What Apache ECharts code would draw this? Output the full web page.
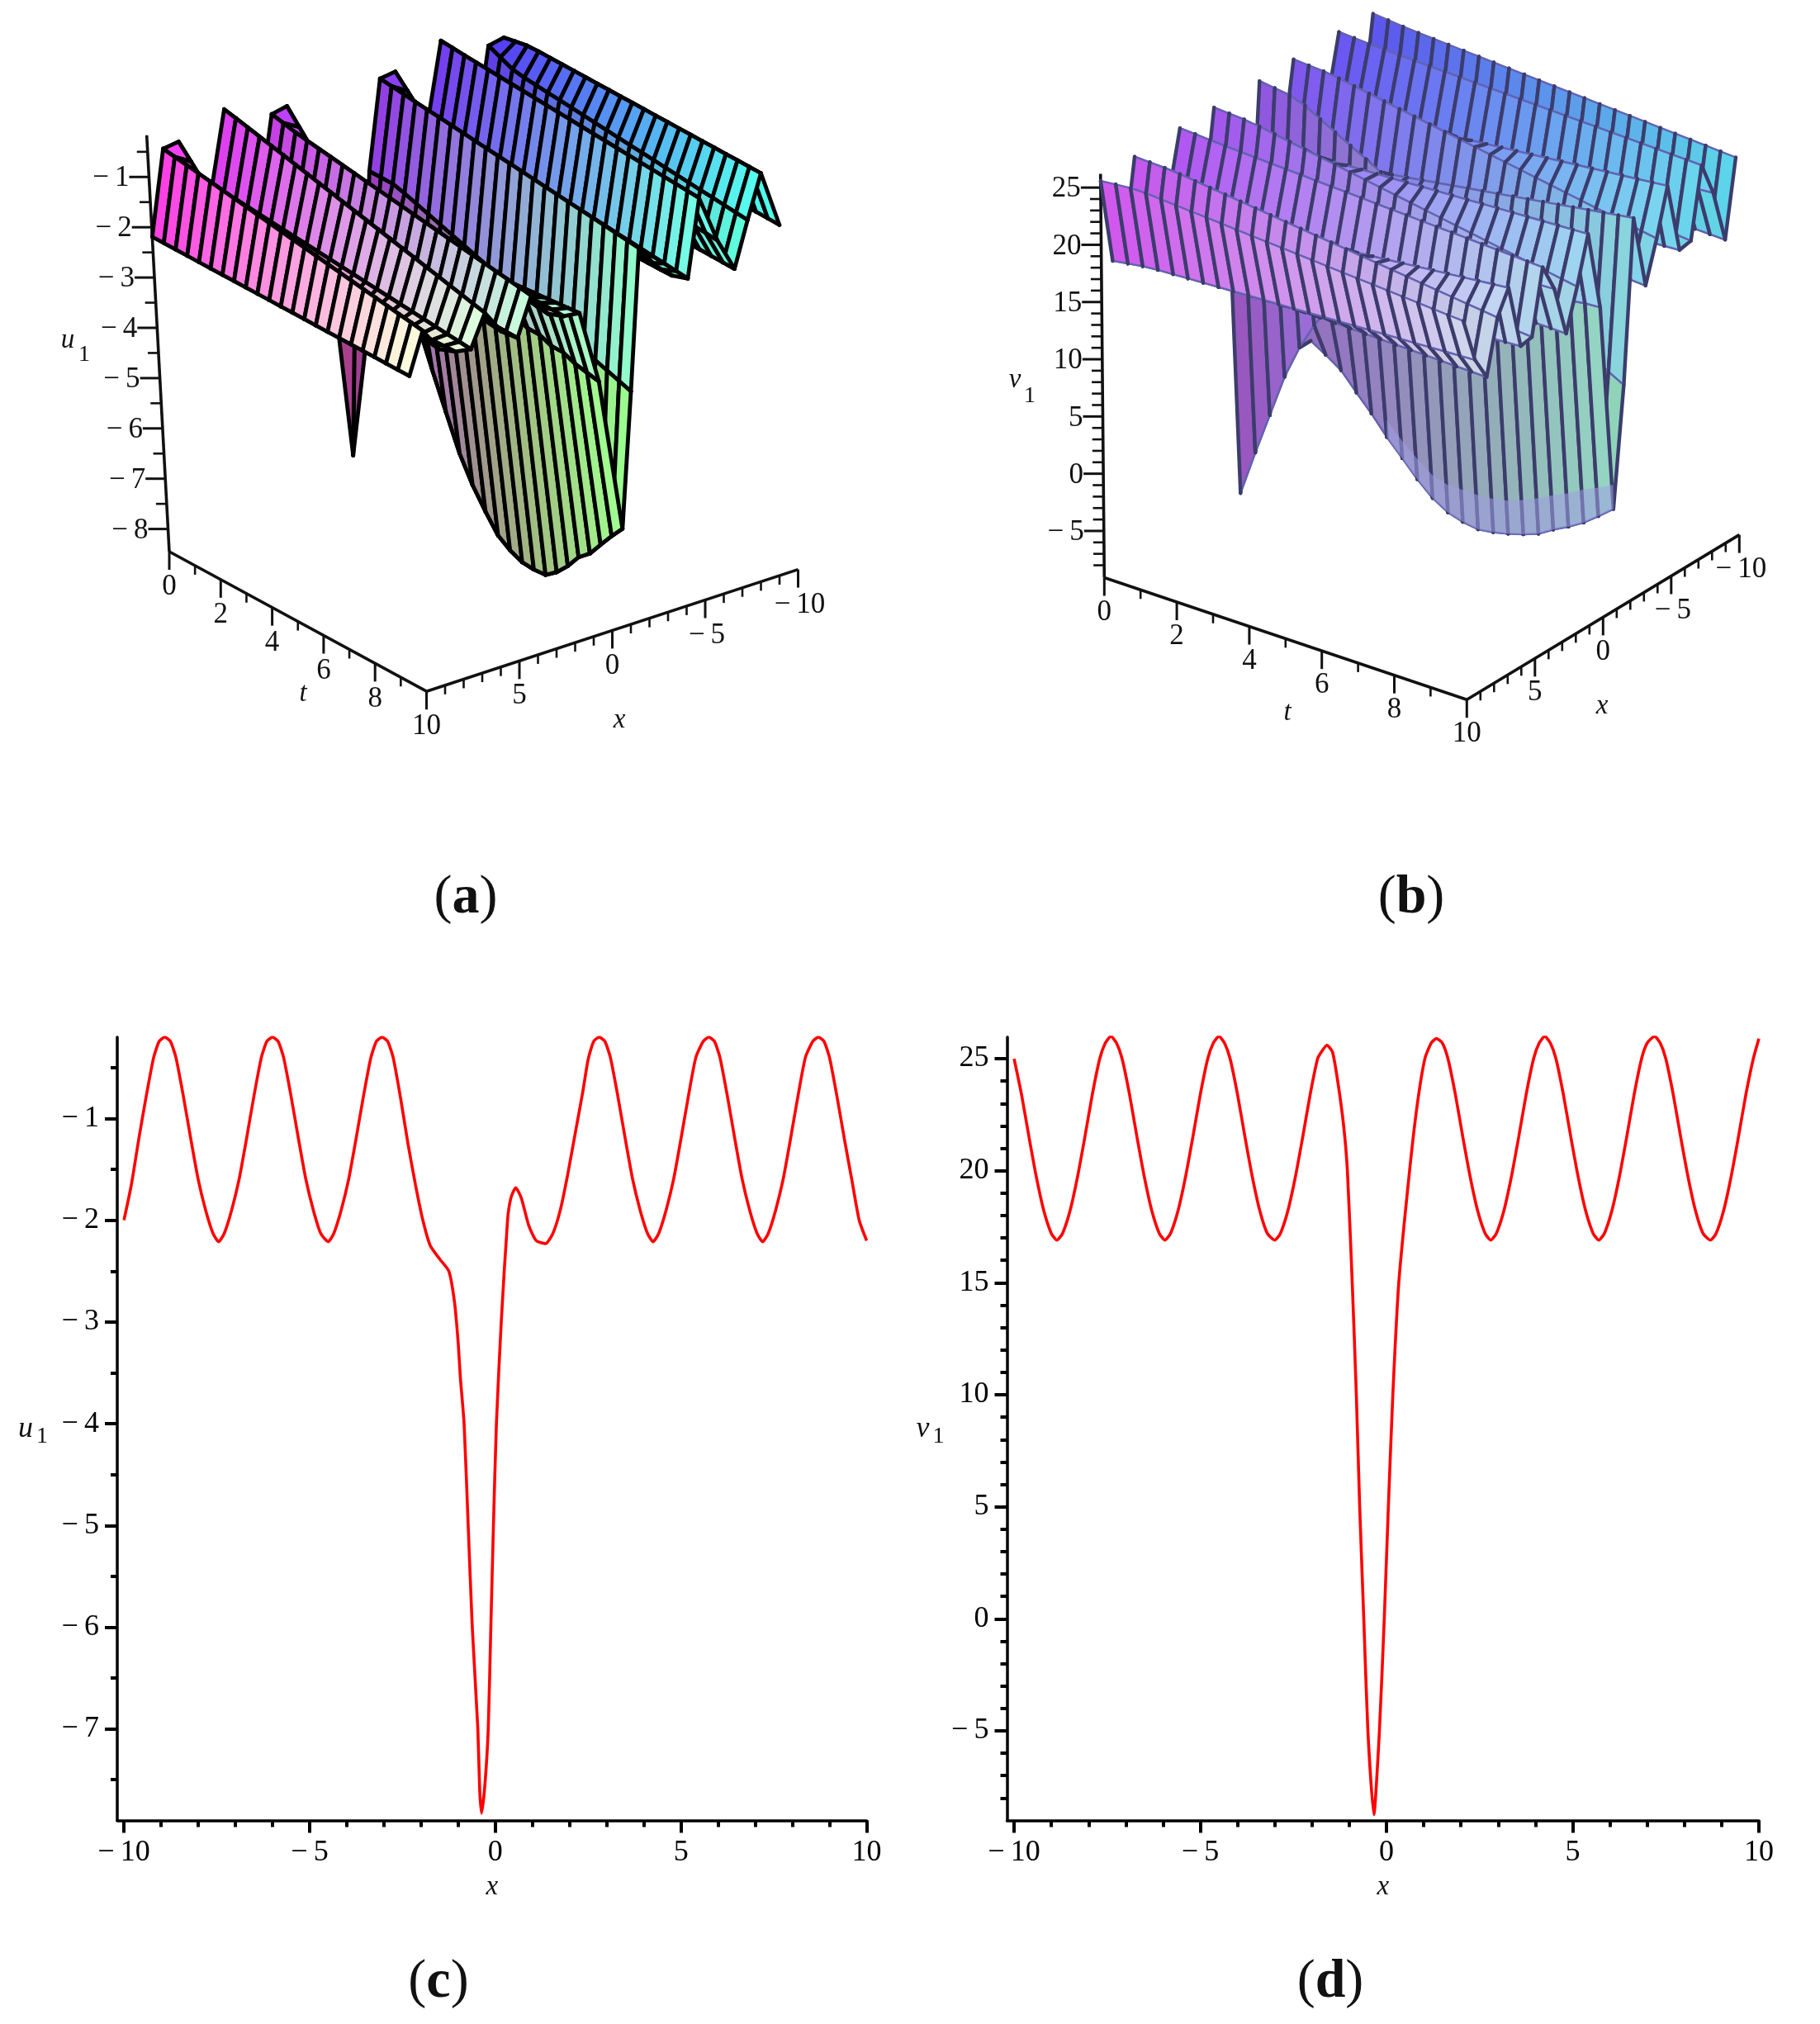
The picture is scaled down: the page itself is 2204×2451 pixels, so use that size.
<!DOCTYPE html>
<html>
<head>
<meta charset="utf-8">
<style>html,body{margin:0;background:#fff}#chart{width:2204px;height:2451px}</style>
<script src="https://cdn.jsdelivr.net/npm/echarts@6/dist/echarts.min.js"></script>
</head>
<body>
<div id="chart"></div>
<script>
// ---- Section curves (c) and (d) ----
const uLineX = [-10,-9.8,-9.6,-9.4,-9.2,-9.05,-8.9,-8.75,-8.6,-8.4,-8.2,-8,-7.8,-7.6,-7.45,-7.3,-7.1,-6.9,-6.7,-6.5,-6.3,-6.15,-6,-5.85,-5.7,-5.5,-5.3,-5.1,-4.9,-4.7,-4.5,-4.35,-4.15,-3.95,-3.75,-3.55,-3.35,-3.2,-3.05,-2.9,-2.75,-2.55,-2.35,-2.15,-1.95,-1.75,-1.5,-1.25,-1.1,-1,-.94,-.84,-.73,-.62,-.47,-.42,-.37,-.28,-.19,-.12,-.05,.03,.16,.33,.42,.55,.7,.9,1.1,1.35,1.55,1.75,1.95,2.15,2.35,2.5,2.65,2.8,2.95,3.1,3.3,3.5,3.7,3.9,4.1,4.25,4.4,4.6,4.8,5,5.2,5.4,5.6,5.75,5.9,6.05,6.25,6.45,6.65,6.85,7.05,7.2,7.35,7.55,7.75,7.95,8.15,8.35,8.55,8.7,8.85,9,9.2,9.4,9.6,9.8,10];
const uLineY = [-2,-1.65,-1.2,-.78,-.4,-.24,-.2,-.24,-.4,-.78,-1.2,-1.6,-1.9,-2.13,-2.21,-2.13,-1.9,-1.6,-1.2,-.78,-.4,-.24,-.2,-.24,-.4,-.78,-1.2,-1.6,-1.9,-2.13,-2.21,-2.13,-1.9,-1.6,-1.2,-.78,-.4,-.24,-.2,-.24,-.4,-.8,-1.25,-1.65,-2,-2.25,-2.38,-2.5,-2.8,-3.2,-3.55,-4,-5,-6,-7,-7.6,-7.83,-7.55,-7,-6,-5,-4,-3,-2,-1.78,-1.68,-1.78,-2.05,-2.2,-2.23,-2.13,-1.9,-1.55,-1.15,-.75,-.42,-.24,-.2,-.24,-.4,-.78,-1.2,-1.6,-1.9,-2.13,-2.21,-2.13,-1.9,-1.6,-1.2,-.78,-.4,-.24,-.2,-.24,-.4,-.78,-1.2,-1.6,-1.9,-2.13,-2.21,-2.13,-1.9,-1.6,-1.2,-.78,-.4,-.24,-.2,-.24,-.4,-.78,-1.2,-1.6,-2,-2.2];
const vLineX = [-10,-9.8,-9.6,-9.4,-9.2,-9,-8.85,-8.7,-8.5,-8.3,-8.1,-7.9,-7.7,-7.55,-7.4,-7.25,-7.1,-6.9,-6.7,-6.5,-6.3,-6.1,-5.95,-5.8,-5.6,-5.4,-5.2,-5,-4.8,-4.65,-4.5,-4.35,-4.2,-4,-3.8,-3.6,-3.4,-3.2,-3,-2.85,-2.65,-2.45,-2.25,-2.05,-1.85,-1.75,-1.6,-1.45,-1.31,-1.15,-1.05,-.92,-.81,-.72,-.61,-.5,-.34,-.19,-.06,.05,.17,.33,.62,.83,1.03,1.2,1.34,1.5,1.65,1.85,2.05,2.25,2.45,2.65,2.8,2.95,3.15,3.35,3.55,3.75,3.95,4.1,4.25,4.4,4.55,4.75,4.95,5.15,5.35,5.55,5.7,5.85,6.05,6.25,6.45,6.65,6.85,7,7.2,7.35,7.5,7.7,7.9,8.1,8.3,8.5,8.7,8.85,9.05,9.25,9.45,9.65,9.85,10];
const vLineY = [25,23.4,21.5,19.7,18.2,17.2,16.9,17.2,18.2,19.7,21.5,23.4,25,25.7,26,25.7,25,23.4,21.5,19.7,18.2,17.2,16.9,17.2,18.2,19.7,21.5,23.4,25,25.7,26,25.7,25,23.4,21.5,19.7,18.2,17.2,16.9,17.2,18.2,19.7,21.5,23.4,25,25.3,25.6,25.3,24,22,20,15,10,5,0,-5,-8.74,-5,0,5,10,15,20,23,25,25.7,25.9,25.7,25,23.4,21.5,19.7,18.2,17.2,16.9,17.2,18.2,19.7,21.5,23.4,25,25.7,26,25.7,25,23.4,21.5,19.7,18.2,17.2,16.9,17.2,18.2,19.7,21.5,23.4,25,25.7,26,25.7,25,23.4,21.5,19.7,18.2,17.2,16.9,17.2,18.2,19.7,21.5,23.4,25,25.9];

const lineXTicks = [-10,-5,0,5,10];
const lineXMinor = [-9,-8,-7,-6,-4,-3,-2,-1,1,2,3,4,6,7,8,9];
const uTicks = [-7,-6,-5,-4,-3,-2,-1];
const uMinor = [-7.5,-6.5,-5.5,-4.5,-3.5,-2.5,-1.5,-.5];
const vTicks = [-5,0,5,10,15,20,25];
const vMinor = [-8,-7,-6,-4,-3,-2,-1,1,2,3,4,6,7,8,9,11,12,13,14,16,17,18,19,21,22,23,24];

// ---- Surfaces (a) and (b): mesh columns read at t = 0, t = 1 and t = 10 ----
const meshX = [-10,-9.17,-8.33,-7.5,-6.67,-5.83,-5,-4.17,-3.33,-2.5,-1.67,-.83,0,.83,1.67,2.5,3.33,4.17,5,5.83,6.67,7.5,8.33,9.17,10];
const meshTA = [0,.45,.91,1.36,1.82,2.27,2.73,3.18,3.64,4.09,4.55,5,5.45,5.91,6.36,6.82,7.27,7.73,8.18,8.64,9.09,9.55,10];
const meshTB = [0,.42,.83,1.25,1.67,2.08,2.5,2.92,3.33,3.75,4.17,4.58,5,5.42,5.83,6.25,6.67,7.08,7.5,7.92,8.33,8.75,9.17,9.58,10];
const keyT = [0,1,10];

const uAtT0 = [-1.6,-.55,-.61,-2.1,-1.1,-.21,-1.55,-2,-.52,-.56,-2.3,-6,-7.75,-2.9,-2,-.5,-.56,-2.1,-1.3,-.16,-1.55,-2.2,-.5,-.54,-2.19];
const uAtT1 = [-1.5,-.45,-.85,-2.1,-1.1,-.25,-1.6,-1.95,-1.1,-.62,-2.3,-3.2,-3,-2.5,-1.9,-1.15,-.68,-2.1,-1.35,-.28,-1.6,-2.2,-1.1,-.62,-2.19];
const uAtT10 = [-1.6,-.47,-1.3,-2.17,-1.5,-.56,-2.06,-1.9,-1.6,-1.15,-3.9,-6.53,-3.5,-2.04,-2,-1.85,-1.39,-2.13,-1.9,-1.43,-2.05,-2,-1.85,-1.38,-2.18];
// the two columns that run through the valley, one value per mesh row
const uValleyA = [-6,-4.2,-3.3,-3.4,-3.95,-4.65,-5.4,-6.1,-6.8,-7.3,-7.7,-8.05,-8.22,-8.33,-8.35,-8.33,-8.15,-7.9,-7.6,-7.4,-7.1,-6.8,-6.53];
const uValleyB = [-7.75,-4.2,-3.1,-2.7,-2.6,-2.6,-2.5,-2.5,-2.6,-2.7,-2.8,-2.9,-3,-3,-3.1,-3.1,-3.2,-3.2,-3.3,-3.3,-3.4,-3.45,-3.5];

const vAtT0 = [25.8,18,19,26,21,17,22,26,19,19,25.9,10,-8.9,23,26,18,20,26,21,17,21,25.9,18.5,18,25.6];
const vAtT1 = [25.5,18,19.5,25.8,21.5,17,22,25.8,19,19.5,25.5,7,.6,23.5,25.8,18,20.5,25.8,21.5,17,21.5,25.8,18.5,18.5,25.9];
const vAtT10 = [23.9,17.3,22,25,19,18.8,25,21,17.5,24,10,-.23,18,25,21,17.5,22,24.5,19,18.8,24.5,22.5,17.9,20,24];
const vValleyA = [10,9.2,7.8,6.4,5.6,4.8,3.9,2.4,1,-.6,-2,-3.4,-4.6,-5.4,-5.8,-6,-5.8,-5.5,-5.1,-4.6,-3.8,-3.1,-2.3,-1.3,-.23];
const vValleyB = [-8.9,-4.9,-1.2,2.6,5.6,8,10,11.8,13,14,14.6,15,15.5,15.8,16,16.2,16.5,16.7,17,17.2,17.3,17.5,17.7,17.9,18];
// pale band along the valley floor in (b): upper edge for mesh rows 9..24
const vBandTop = [.9,-.5,-1.6,-2.6,-3,-3,-3,-2.9,-2.6,-2.1,-1.5,-.8,-.2,.6,1.2,1.9];

const boxTTicks = [0,2,4,6,8,10];
const boxTMinor = [1,3,5,7,9];
const boxXTicks = [5,0,-5,-10];
const boxXMinor = [9,8,7,6,4,3,2,1,-1,-2,-3,-4,-6,-7,-8,-9];
const boxUTicks = [-8,-7,-6,-5,-4,-3,-2,-1];
const boxUMinor = [-7.5,-6.5,-5.5,-4.5,-3.5,-2.5,-1.5,-.5];
const boxVTicks = [-5,0,5,10,15,20,25];
const boxVMinor = [-8,-7,-6,-4,-3,-2,-1,1,2,3,4,6,7,8,9,11,12,13,14,16,17,18,19,21,22,23,24];

const FONT = '"Liberation Serif", serif';

// orthographic view of the Maple box, pixels per unit
const viewA = {
  origin: [205, 668], perX: [-22.5, 7.38], perT: [31.15, 16.92], perZ: [-3.3, -60.9],
  zMin: -8.45, zMax: -.17, meshT: meshTA,
  stripe: '#000', column: '#000', stripeWidth: 4.8, columnWidth: 4.8,
  red: [75, 255], green: [60, 255], blue: [70, 255],
};
const viewB = {
  origin: [1337.3, 699.5], perX: [-16.5, 9.98], perT: [43.9, 14.77], perZ: [-.13, -13.86],
  zMin: -9.08, zMax: 26.2, meshT: meshTB,
  stripe: '#3c3c6c', column: '#6262b0', stripeWidth: 4.4, columnWidth: 2.4,
  red: [90, 210], green: [85, 215], blue: [140, 250],
};

function project(view, x, t, z) {
  const dx = 10 - x, dz = z - view.zMin;
  return [
    view.origin[0] - dx * view.perX[0] + t * view.perT[0] + dz * view.perZ[0],
    view.origin[1] - dx * view.perX[1] + t * view.perT[1] + dz * view.perZ[1],
  ];
}

// height of a mesh node: valley columns have their own list, the others are straight ridges between key rows
function meshHeight(view, rows, valleys, j, k) {
  if (valleys[j]) return valleys[j][k];
  const t = view.meshT[k];
  const i = t < keyT[1] ? 0 : 1;
  const f = (t - keyT[i]) / (keyT[i + 1] - keyT[i]);
  return rows[i][j] + (rows[i + 1][j] - rows[i][j]) * f;
}

function cellColor(view, x, t, z) {
  const mix = (c, f) => Math.round(c[0] + (c[1] - c[0]) * Math.max(0, Math.min(1, f)));
  const r = mix(view.red, (x + 10) / 20);
  const g = mix(view.green, t / 10);
  const b = mix(view.blue, (z - view.zMin) / (view.zMax - view.zMin));
  return `rgb(${r},${g},${b})`;
}

function surfaceSeries(view, rows, valleys) {
  const meshT = view.meshT;
  const data = [];
  for (let j = 0; j < meshX.length - 1; j++) {
    for (let k = 0; k < meshT.length - 1; k++) data.push([j, k]);
  }
  return {
    type: 'custom', xAxisIndex: 4, yAxisIndex: 4, silent: true, animation: false, clip: false,
    progressive: 0, z: 3, data,
    renderItem(params, api) {
      const j = api.value(0), k = api.value(1);
      const h = (a, b) => meshHeight(view, rows, valleys, a, b);
      const node = (a, b) => api.coord(project(view, meshX[a], meshT[b], h(a, b)));
      const p00 = node(j, k), p01 = node(j, k + 1), p11 = node(j + 1, k + 1), p10 = node(j + 1, k);
      const zMid = (h(j, k) + h(j + 1, k + 1)) / 2;
      const fill = cellColor(view, (meshX[j] + meshX[j + 1]) / 2, (meshT[k] + meshT[k + 1]) / 2, zMid);
      const edge = (a, b, color, width) => ({
        type: 'line',
        shape: { x1: a[0], y1: a[1], x2: b[0], y2: b[1] },
        style: { stroke: color, lineWidth: width, lineCap: 'round' },
      });
      return {
        type: 'group',
        children: [
          { type: 'polygon', shape: { points: [p00, p01, p11, p10] }, style: { fill, stroke: fill, lineWidth: .6 } },
          edge(p00, p01, view.column, view.columnWidth),
          edge(p10, p11, view.column, view.columnWidth),
          edge(p00, p10, view.stripe, view.stripeWidth),
          edge(p01, p11, view.stripe, view.stripeWidth),
        ],
      };
    },
  };
}

function bandSeries(view, lower, upper, firstRow) {
  return {
    type: 'custom', xAxisIndex: 4, yAxisIndex: 4, silent: true, animation: false, clip: false, z: 4,
    data: [[0]],
    renderItem(params, api) {
      const x = meshX[11], pts = [];
      upper.forEach((z, i) => pts.push(api.coord(project(view, x, view.meshT[firstRow + i], z))));
      for (let i = upper.length - 1; i >= 0; i--) pts.push(api.coord(project(view, x, view.meshT[firstRow + i], lower[firstRow + i])));
      return { type: 'polygon', shape: { points: pts }, style: { fill: 'rgba(158,158,226,.55)' } };
    },
  };
}

// axes, ticks and texts of a box, built as plain items and drawn by one custom series
function boxSeries(view, opt) {
  const items = [];
  const line = (a, b, w) => items.push({ kind: 'line', a, b, w });
  const text = (s, at, dx, dy, align) => items.push({ kind: 'text', s, at, dx, dy, align });
  const z0 = view.zMin;
  line([10, 0, z0], [10, 10, z0], 3.6);
  line([10, 10, z0], [-10, 10, z0], 3.6);
  line([10, 0, z0], [10, 0, view.zMax], 3.6);
  boxTTicks.forEach(t => {
    items.push({ kind: 'tick', at: [10, t, z0], dx: 0, dy: 22, w: 3 });
    text(String(t), [10, t, z0], 0, opt.labelDrop, 'center');
  });
  boxTMinor.forEach(t => items.push({ kind: 'tick', at: [10, t, z0], dx: 0, dy: 11, w: 2.6 }));
  boxXTicks.forEach(x => {
    items.push({ kind: 'tick', at: [x, 10, z0], dx: 0, dy: 22, w: 3 });
    text(signed(x), [x, 10, z0], x < 0 ? 2 : 0, opt.labelDrop, 'center');
  });
  boxXMinor.forEach(x => items.push({ kind: 'tick', at: [x, 10, z0], dx: 0, dy: 11, w: 2.6 }));
  opt.zTicks.forEach(z => {
    items.push({ kind: 'tick', at: [10, 0, z], dx: -24, dy: 0, w: 3 });
    text(signed(z), [10, 0, z], -24, 2, 'right');
  });
  opt.zMinor.forEach(z => items.push({ kind: 'tick', at: [10, 0, z], dx: -13, dy: 0, w: 2.6 }));
  opt.names.forEach(n => items.push({ kind: 'page', s: n.s, x: n.x, y: n.y, size: n.size }));
  return {
    type: 'custom', xAxisIndex: 4, yAxisIndex: 4, silent: true, animation: false, clip: false, z: 2,
    data: items.map((_, i) => [i]),
    renderItem(params, api) {
      const it = items[api.value(0)];
      if (it.kind === 'line') {
        const a = api.coord(project(view, ...it.a)), b = api.coord(project(view, ...it.b));
        return { type: 'line', shape: { x1: a[0], y1: a[1], x2: b[0], y2: b[1] }, style: { stroke: '#111', lineWidth: it.w } };
      }
      if (it.kind === 'tick') {
        const a = api.coord(project(view, ...it.at));
        return { type: 'line', shape: { x1: a[0], y1: a[1], x2: a[0] + it.dx, y2: a[1] + it.dy }, style: { stroke: '#111', lineWidth: it.w } };
      }
      if (it.kind === 'page') {
        const p = api.coord([it.x, it.y]);
        return {
          type: 'text', x: p[0], y: p[1],
          style: { text: it.s, fill: '#111', font: `italic ${it.size}px ${FONT}`, align: 'center', verticalAlign: 'middle' },
        };
      }
      const a = api.coord(project(view, ...it.at));
      return {
        type: 'text', x: a[0] + it.dx, y: a[1] + it.dy,
        style: { text: it.s, fill: '#111', font: `35px ${FONT}`, align: it.align, verticalAlign: 'middle' },
      };
    },
  };
}

function subscriptSeries(labels) {
  return {
    type: 'custom', xAxisIndex: 4, yAxisIndex: 4, silent: true, animation: false, clip: false, z: 2,
    data: labels.map((_, i) => [i]),
    renderItem(params, api) {
      const l = labels[api.value(0)];
      const p = api.coord([l.x, l.y]);
      return { type: 'text', x: p[0], y: p[1], style: { text: l.s, fill: '#111', font: `${l.size}px ${FONT}`, align: 'center', verticalAlign: 'middle' } };
    },
  };
}

function signed(v) {
  return String(v).replace('-', '\u2212\u2009');
}

function lineAxes(type, min, max, ticks, minor, gridIndex, name, nameGap) {
  const rich = {
    i: { fontFamily: FONT, fontStyle: 'italic', fontSize: 36, color: '#111' },
    s: { fontFamily: FONT, fontStyle: 'normal', fontSize: 28, color: '#111', padding: [18, 0, 0, 4] },
  };
  const main = {
    type: 'value', gridIndex, min, max, name, nameGap,
    nameLocation: 'middle', nameRotate: 0,
    nameTextStyle: { rich, fontFamily: FONT, fontStyle: 'italic', fontSize: 33, color: '#111' },
    position: type === 'x' ? 'bottom' : 'left',
    splitLine: { show: false },
    axisLine: { show: true, onZero: false, lineStyle: { color: '#000', width: 3.5 } },
    axisTick: { show: true, customValues: ticks, length: 15, lineStyle: { color: '#000', width: 4 } },
    axisLabel: { customValues: ticks, formatter: signed, fontFamily: FONT, fontSize: 36, color: '#000', margin: type === 'x' ? 21 : 22 },
  };
  const small = {
    type: 'value', gridIndex, min, max,
    position: type === 'x' ? 'bottom' : 'left',
    splitLine: { show: false },
    axisLine: { show: false, onZero: false },
    axisTick: { show: true, customValues: minor, length: 8, lineStyle: { color: '#000', width: 4 } },
    axisLabel: { show: false },
  };
  return [main, small];
}

function redLine(index, xs, ys) {
  return {
    type: 'line', xAxisIndex: index, yAxisIndex: index, showSymbol: false, silent: true, animation: false,
    smooth: .2,
    lineStyle: { color: '#ff0000', width: 3.6 }, z: 5,
    data: xs.map((x, i) => [x, ys[i]]),
  };
}

const pageAxisX = { type: 'value', gridIndex: 2, min: 0, max: 2204, show: false };
const pageAxisY = { type: 'value', gridIndex: 2, min: 0, max: 2451, inverse: true, show: false };

const caption = (letter, x, y) => ({
  text: `(${'{b|' + letter + '}'})`, left: x, top: y, textAlign: 'center',
  textStyle: {
    fontFamily: FONT, fontSize: 66, fontWeight: 'normal', color: '#111',
    rich: { b: { fontFamily: FONT, fontSize: 66, fontWeight: 'bold', color: '#111' } },
  },
});

const chart = echarts.init(document.getElementById('chart'), null, { renderer: 'canvas' });
chart.setOption({
  backgroundColor: '#fff',
  animation: false,
  title: [caption('a', 559, 1050), caption('b', 1704, 1050), caption('c', 526, 2363), caption('d', 1606, 2363)],
  grid: [
    { left: 142, top: 1256, width: 907.5, height: 948.5 },
    { left: 1219.5, top: 1256, width: 910.5, height: 948.5 },
    { left: 0, top: 0, width: 2204, height: 2451 },
  ],
  xAxis: [
    ...lineAxes('x', -10.18, 10, lineXTicks, lineXMinor, 0, 'x', 64),
    ...lineAxes('x', -10.19, 10, lineXTicks, lineXMinor, 1, 'x', 64),
    pageAxisX,
  ],
  yAxis: [
    ...lineAxes('y', -7.9, -.2, uTicks, uMinor, 0, '{i|u}{s|1}', 84),
    ...lineAxes('y', -9, 25.96, vTicks, vMinor, 1, '{i|v}{s|1}', 76),
    pageAxisY,
  ],
  series: [
    redLine(0, uLineX, uLineY),
    redLine(2, vLineX, vLineY),
    boxSeries(viewA, {
      labelDrop: 43, zTicks: boxUTicks, zMinor: boxUMinor,
      names: [{ s: 't', x: 367, y: 840, size: 33 }, { s: 'x', x: 750, y: 872, size: 33 }, { s: 'u', x: 82, y: 412, size: 33 }],
    }),
    boxSeries(viewB, {
      labelDrop: 42, zTicks: boxVTicks, zMinor: boxVMinor,
      names: [{ s: 't', x: 1559, y: 863, size: 33 }, { s: 'x', x: 1940, y: 855, size: 33 }, { s: 'v', x: 1229, y: 460, size: 33 }],
    }),
    subscriptSeries([{ s: '1', x: 102, y: 430, size: 28 }, { s: '1', x: 1247, y: 480, size: 28 }]),
    surfaceSeries(viewA, [uAtT0, uAtT1, uAtT10], { 11: uValleyA, 12: uValleyB }),
    surfaceSeries(viewB, [vAtT0, vAtT1, vAtT10], { 11: vValleyA, 12: vValleyB }),
    bandSeries(viewB, vValleyA, vBandTop, 9),
  ],
});
</script>
</body>
</html>
